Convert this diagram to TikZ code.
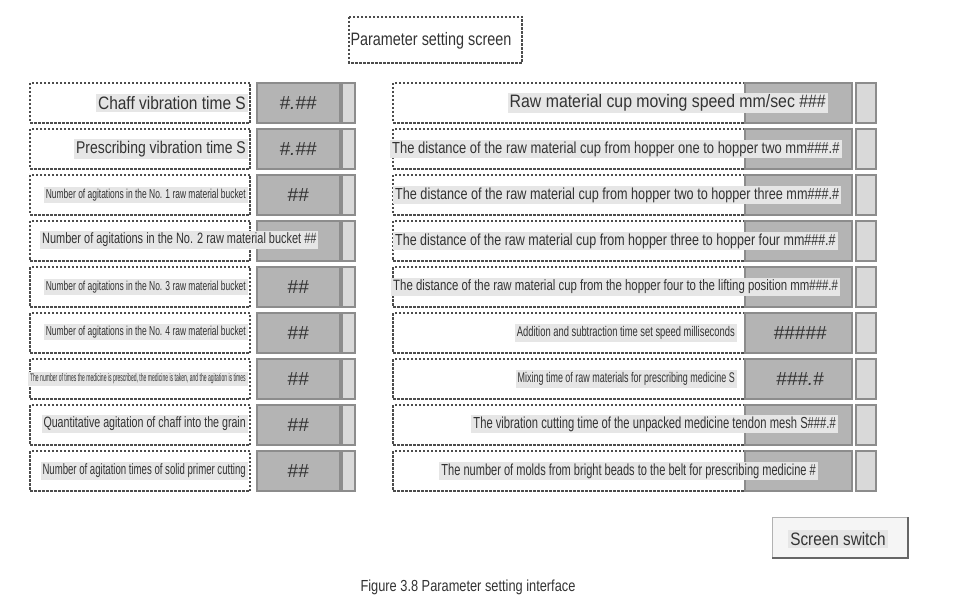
\documentclass[tikz,border=0pt]{standalone}
\usepackage{fontspec}
\setmainfont{Liberation Sans}
\usetikzlibrary{calc}
\definecolor{panel}{HTML}{B4B4B4}
\definecolor{labelbg}{HTML}{E6E6E6}
\definecolor{txt}{HTML}{333333}
\tikzset{
	frame/.style={draw=black!70, dashed, dash pattern=on 2.5pt off 1.5pt, line width=1.2pt},
	valbox/.style={draw=black!45, line width=2pt, fill=panel},
	bar/.style={draw=black!45, line width=1.2pt, fill=black!15},
	lbl/.style={fill=labelbg, inner sep=2pt, text=txt}
}
\newcommand{\narrow}[2]{\scalebox{#1}[1]{#2}}
\begin{document}
\begin{tikzpicture}[x=1pt, y=-1pt]
		\useasboundingbox (0,0) rectangle (979,612);

		% title
		\draw[frame] (349,17) rectangle (522,63);
		\node[font=\fontsize{18}{18}\selectfont, text=txt] (title) at (431,41) {\narrow{0.8}{Parameter setting screen}};

		% left and right columns: frames and value boxes
		\foreach \r in {0,...,8} {
			\pgfmathsetmacro{\top}{83+46*\r}
			\draw[frame] (30,\top) rectangle (250,\top+40);
			\draw[valbox] (257,\top) rectangle (340,\top+40);
			\draw[bar] (342,\top) rectangle (355,\top+40);
			\draw[frame] (393,\top) rectangle (745,\top+40);
			\draw[valbox] (745,\top) rectangle (852,\top+40);
			\draw[bar] (856,\top) rectangle (876,\top+40);
		}

		% left labels
		\node[lbl, anchor=east, font=\fontsize{18}{18}\selectfont] (l1) at (248,103) {\narrow{0.86}{Chaff vibration time S}};
		\node[lbl, anchor=east, font=\fontsize{17}{17}\selectfont] (l2) at (248,149) {\narrow{0.82}{Prescribing vibration time S}};
		\node[lbl, anchor=east, font=\fontsize{13}{13}\selectfont] (l3) at (248,195) {\narrow{0.65}{Number of agitations in the No. 1 raw material bucket}};
		\node[lbl, anchor=west, font=\fontsize{15}{15}\selectfont] (l4) at (40,240) {\narrow{0.73}{Number of agitations in the No. 2 raw material bucket \#\#}};
		\node[lbl, anchor=east, font=\fontsize{13}{13}\selectfont] (l5) at (248,287) {\narrow{0.65}{Number of agitations in the No. 3 raw material bucket}};
		\node[lbl, anchor=east, font=\fontsize{13}{13}\selectfont] (l6) at (248,332) {\narrow{0.65}{Number of agitations in the No. 4 raw material bucket}};
		\node[lbl, anchor=east, font=\fontsize{11}{11}\selectfont] (l7) at (248,379) {\narrow{0.46}{The number of times the medicine is prescribed, the medicine is taken, and the agitation is times}};
		\node[lbl, anchor=east, font=\fontsize{15}{15}\selectfont] (l8) at (248,424) {\narrow{0.71}{Quantitative agitation of chaff into the grain}};
		\node[lbl, anchor=east, font=\fontsize{15}{15}\selectfont] (l9) at (248,471) {\narrow{0.64}{Number of agitation times of solid primer cutting}};

		% left values
		\foreach \r/\v in {0/{\#.\#\#},1/{\#.\#\#},2/{\#\#},4/{\#\#},5/{\#\#},6/{\#\#},7/{\#\#},8/{\#\#}} {
			\node[font=\fontsize{19}{19}\itshape, text=txt] (lv\r) at (298,{103+46*\r}) {\v};
		}

		% right labels
		\node[lbl, anchor=east, font=\fontsize{18}{18}\selectfont] (r1) at (828,103) {\narrow{0.88}{Raw material cup moving speed mm/sec \#\#\#}};
		\node[lbl, anchor=west, font=\fontsize{16}{16}\selectfont] (r2) at (390,149) {\narrow{0.81}{The distance of the raw material cup from hopper one to hopper two mm\#\#\#.\#}};
		\node[lbl, anchor=west, font=\fontsize{16}{16}\selectfont] (r3) at (393,195) {\narrow{0.79}{The distance of the raw material cup from hopper two to hopper three mm\#\#\#.\#}};
		\node[lbl, anchor=west, font=\fontsize{16}{16}\selectfont] (r4) at (393,241) {\narrow{0.78}{The distance of the raw material cup from hopper three to hopper four mm\#\#\#.\#}};
		\node[lbl, anchor=west, font=\fontsize{15}{15}\selectfont] (r5) at (391,287) {\narrow{0.76}{The distance of the raw material cup from the hopper four to the lifting position mm\#\#\#.\#}};
		\node[lbl, anchor=east, font=\fontsize{14}{14}\selectfont] (r6) at (737,333) {\narrow{0.67}{Addition and subtraction time set speed milliseconds}};
		\node[lbl, anchor=east, font=\fontsize{14}{14}\selectfont] (r7) at (737,379) {\narrow{0.64}{Mixing time of raw materials for prescribing medicine S}};
		\node[lbl, anchor=east, font=\fontsize{16}{16}\selectfont] (r8) at (838,424) {\narrow{0.7}{The vibration cutting time of the unpacked medicine tendon mesh S\#\#\#.\#}};
		\node[lbl, anchor=east, font=\fontsize{16}{16}\selectfont] (r9) at (818,471) {\narrow{0.69}{The number of molds from bright beads to the belt for prescribing medicine \#}};

		% right values
		\node[font=\fontsize{19}{19}\itshape, text=txt] (rv6) at (800,333) {\#\#\#\#\#};
		\node[font=\fontsize{19}{19}\itshape, text=txt] (rv7) at (800,379) {\#\#\#.\#};

		% switch button
		\draw[draw=black!30, fill=black!4, line width=1pt] (772,517) rectangle (908,558);
		\draw[black!60, line width=1.5pt] (772,558) -- (908,558) -- (908,517);
		\node[lbl, font=\fontsize{18}{18}\selectfont] (sw) at (838,539) {\narrow{0.85}{Screen switch}};

		% caption
		\node[font=\fontsize{16}{16}\selectfont, text=txt] (cap) at (468,587) {\narrow{0.8}{Figure 3.8 Parameter setting interface}};
	\end{tikzpicture}
\end{document}
